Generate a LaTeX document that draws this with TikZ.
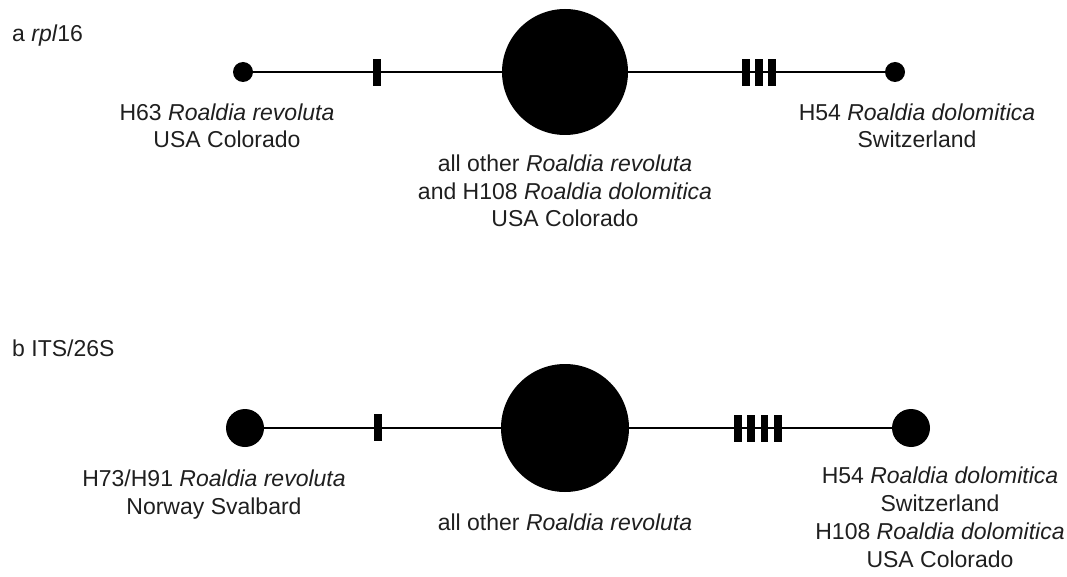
\documentclass[tikz,border=0pt]{standalone}
\usepackage{fontspec}
\setmainfont{Liberation Sans}
\begin{document}
\begin{tikzpicture}[x=1pt,y=-1pt,
  lab/.style={font=\fontsize{23}{27.7}\selectfont, align=center, anchor=base, inner sep=0pt, text=black!88},
  hap/.style={circle, fill=black, inner sep=0pt, minimum size=#1},
  mut/.style={fill=black, inner sep=0pt, minimum width=7.5pt, minimum height=27pt},
  link/.style={line width=2.6pt}]
\useasboundingbox (0,0) rectangle (1067,577);

% panel a
\node[lab, anchor=base west] (la) at (12,42) {a \textit{rpl}16};
\node[hap=20pt] (a1) at (243,72) {};
\node[hap=126pt] (a2) at (565,72) {};
\node[hap=20pt] (a3) at (895,72) {};
\draw[link] (a1) -- (a2);
\draw[link] (a2) -- (a3);
\node[mut] (am1) at (377,72.5) {};
\node[mut] (am2) at (746,72.5) {};
\node[mut] (am3) at (759,72.5) {};
\node[mut] (am4) at (772,72.5) {};
\node[lab] (ta1) at (227,148) {H63 \textit{Roaldia revoluta}\\USA Colorado};
\node[lab] (ta2) at (565,227) {all other \textit{Roaldia revoluta}\\and H108 \textit{Roaldia dolomitica}\\USA Colorado};
\node[lab] (ta3) at (917,148) {H54 \textit{Roaldia dolomitica}\\Switzerland};

% panel b
\node[lab, anchor=base west] (lb) at (12,356) {b ITS/26S};
\node[hap=38pt] (b1) at (245,428) {};
\node[hap=128pt] (b2) at (565,428) {};
\node[hap=38pt] (b3) at (911,428) {};
\draw[link] (b1) -- (b2);
\draw[link] (b2) -- (b3);
\node[mut] (bm1) at (378,427) {};
\node[mut] (bm2) at (738,428) {};
\node[mut] (bm3) at (751,428) {};
\node[mut] (bm4) at (764.5,428) {};
\node[mut] (bm5) at (778,428) {};
\node[lab] (tb1) at (214,514) {H73/H91 \textit{Roaldia revoluta}\\Norway Svalbard};
\node[lab] (tb2) at (565,530) {all other \textit{Roaldia revoluta}};
\node[lab] (tb3) at (940,567) {H54 \textit{Roaldia dolomitica}\\Switzerland\\H108 \textit{Roaldia dolomitica}\\USA Colorado};
\end{tikzpicture}
\end{document}
